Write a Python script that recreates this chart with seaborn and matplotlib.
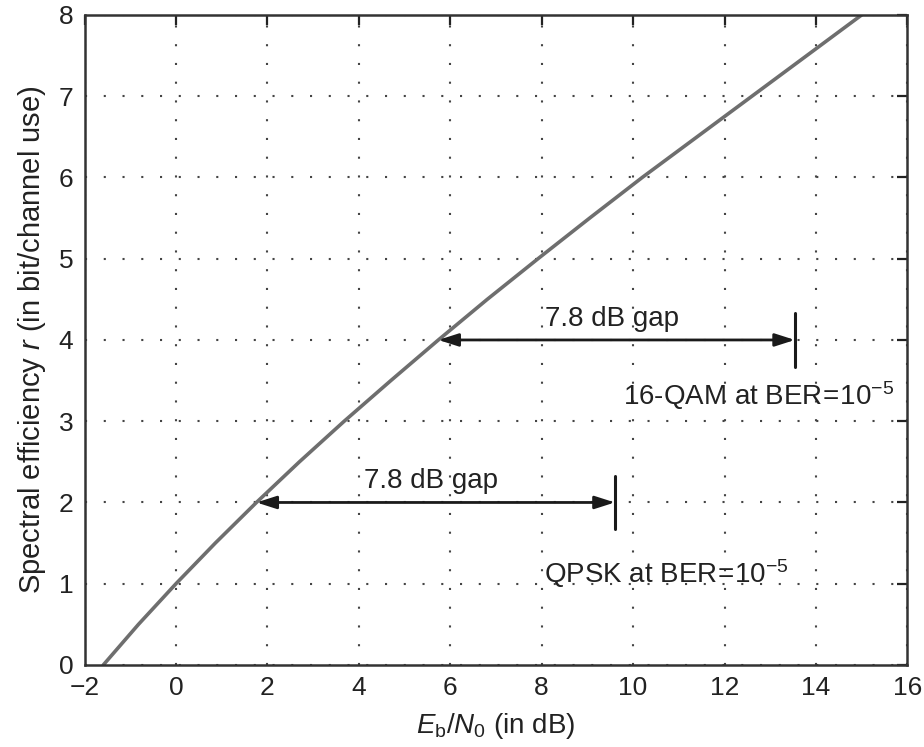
import matplotlib
matplotlib.use("Agg")
import matplotlib.pyplot as plt
import seaborn as sns
import pandas as pd

# Shannon-limit curve
ebn0_db = [-1.59, -0.82, 0.0, 0.86, 1.76, 2.70, 3.68, 4.70, 5.74, 6.81, 7.92, 9.05, 10.2, 11.4, 12.6, 13.8, 15.0]
spectral_eff = [0.0, 0.5, 1.0, 1.5, 2.0, 2.5, 3.0, 3.5, 4.0, 4.5, 5.0, 5.5, 6.0, 6.5, 7.0, 7.5, 8.0]

# Gap annotations
gap_start_x = [1.76, 5.74]
gap_end_x = [9.6, 13.54]
gap_y = [2.0, 4.0]
gap_text = ["7.8 dB gap", "7.8 dB gap"]
mod_labels = ["QPSK at BER$\\!=\\!10^{-5}$", "16-QAM at BER$\\!=\\!10^{-5}$"]

xticks = [-2, 0, 2, 4, 6, 8, 10, 12, 14, 16]
yticks = [0, 1, 2, 3, 4, 5, 6, 7, 8]

sns.set_theme(style="white")
plt.rcParams['font.family'] = ['Liberation Sans', 'DejaVu Sans']
plt.rcParams['mathtext.fontset'] = 'custom'
plt.rcParams['mathtext.rm'] = 'Liberation Sans'
plt.rcParams['mathtext.it'] = 'Liberation Sans:italic'

fig = plt.figure(figsize=(9.24, 7.47), dpi=100)
ax = fig.add_axes([0.0915, 0.1098, 0.8905, 0.8702])

df = pd.DataFrame({"x": ebn0_db, "y": spectral_eff})
sns.lineplot(data=df, x="x", y="y", ax=ax, color="#6e6e6e", lw=2.6, sort=False)

ax.set_xlim(-2, 16)
ax.set_ylim(0, 8)
ax.set_xticks(xticks)
ax.set_yticks(yticks)
ax.set_xticklabels([str(t).replace('-', '\u2212') for t in xticks])
ax.grid(True, linestyle=(0, (1, 8)), color="#444444", lw=1.5)
ax.tick_params(direction="in", length=7, width=1.6, colors="#222222", labelsize=19, pad=8,
               top=True, right=True)
for s in ax.spines.values():
    s.set_color("#333333")
    s.set_linewidth(1.8)

for i in range(2):
    y = gap_y[i]
    ax.annotate("", xy=(gap_start_x[i], y), xytext=(gap_end_x[i], y),
                arrowprops=dict(arrowstyle="<|-|>,head_length=1.0,head_width=0.32",
                                color="#1a1a1a", lw=2, shrinkA=0, shrinkB=0))
    ax.plot([gap_end_x[i], gap_end_x[i]], [y - 0.33, y + 0.33], color="#1a1a1a", lw=2.2)
    ax.text((gap_start_x[i] + gap_end_x[i]) / 2 - 0.1, y + 0.1, gap_text[i],
            ha="center", va="bottom", fontsize=20, color="#222222")

ax.text(8.05, 1.12, mod_labels[0], ha="left", va="center", fontsize=20, color="#222222")
ax.text(9.78, 3.32, mod_labels[1], ha="left", va="center", fontsize=20, color="#222222")

ax.set_xlabel("$E_{\\mathrm{b}}/N_{0}$ (in dB)", fontsize=20, color="#222222", labelpad=8)
ax.set_ylabel("Spectral efficiency $r$ (in bit/channel use)", fontsize=21, color="#222222", labelpad=8)

fig.savefig("out.png", dpi=100)
